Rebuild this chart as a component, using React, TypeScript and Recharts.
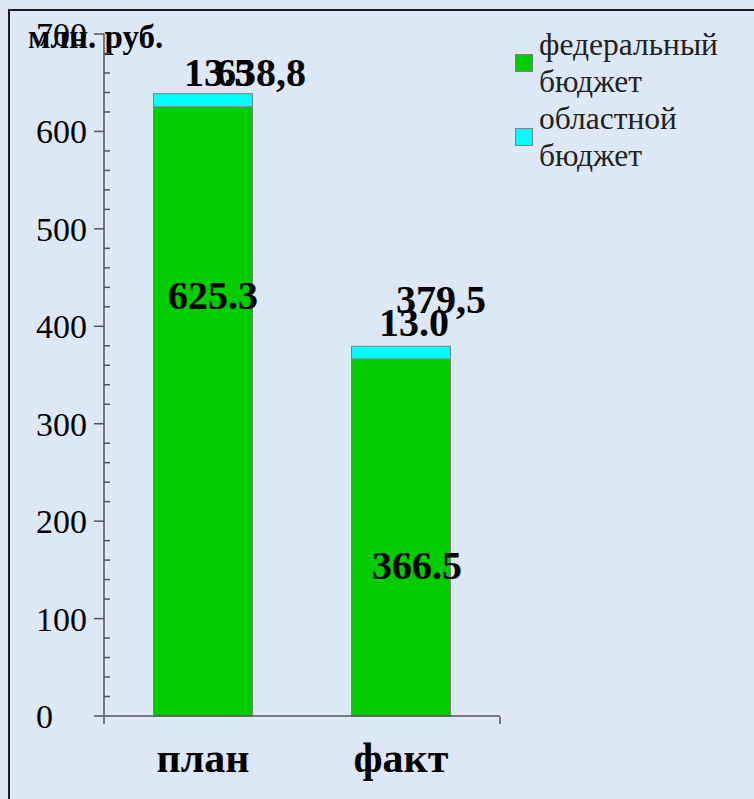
import React from 'react';
import { BarChart, Bar, XAxis, YAxis, Legend, LabelList, Label } from 'recharts';

const categories = ['план', 'факт'];
const federalBudget = [625.3, 366.5];
const regionalBudget = [13.5, 13.0];
const seriesNames = ['федеральный бюджет', 'областной бюджет'];
const unitLabel = 'млн. руб.';
const yTicks = [0, 100, 200, 300, 400, 500, 600, 700];
const yMinorTicks = Array.from({ length: 36 }, (_, i) => i * 20).filter((v) => v % 100 !== 0);
const xMinorTicks = [0, 1, 2, 3, 4, 5, 6, 7, 8, 9, 10];

const data = categories.map((c, i) => ({
  category: c,
  federal: federalBudget[i],
  regional: regionalBudget[i],
  total: Math.round((federalBudget[i] + regionalBudget[i]) * 10) / 10,
}));

const FONT = '"Liberation Serif", "Times New Roman", serif';
const BG = '#dce8f5';
const AXIS = '#555555';

// label placement relative to each bar segment (as in the original slide)
const federalShift = [{ dx: 10, dy: 202 }, { dx: 16, dy: 220 }];
const regionalShift = [{ dx: 16, dy: -8 }, { dx: 13, dy: -10 }];
const totalShift = [{ dx: 58, dy: -8 }, { dx: 40, dy: -33 }];

const getBox = (p: any) => {
  const vb = p.viewBox || p;
  return { x: Number(vb.x ?? p.x), y: Number(vb.y ?? p.y), w: Number(vb.width ?? p.width), h: Number(vb.height ?? p.height) };
};

const makeLabel = (shift: { dx: number; dy: number }[], fmt: (v: number) => string) => (p: any) => {
  const { x, y, w } = getBox(p);
  const i = p.index ?? 0;
  const s = shift[i] || { dx: 0, dy: 0 };
  return (
    <text
      x={x + w / 2 + s.dx}
      y={y + s.dy}
      textAnchor="middle"
      fontFamily={FONT}
      fontWeight="bold"
      fontSize={40}
      fill="#000"
    >
      {fmt(Number(p.value))}
    </text>
  );
};

const CategoryTick = (p: any) => (
  <text
    x={p.x}
    y={p.y}
    dy={56}
    textAnchor="middle"
    fontFamily={FONT}
    fontWeight="bold"
    fontSize={42}
    fill="#000"
  >
    {p.payload.value}
  </text>
);

const ValueTick = (p: any) => (
  <text
    x={p.x - 54}
    y={p.y}
    dy={12}
    textAnchor="start"
    fontFamily={FONT}
    fontSize={34}
    fill="#000"
  >
    {p.payload.value}
  </text>
);

const EmptyTick = () => <g />;

const renderLegend = (props: any) => {
  const payload = [...(props.payload || [])].sort(
    (a: any, b: any) => seriesNames.indexOf(a.value) - seriesNames.indexOf(b.value)
  );
  return (
    <div style={{ fontFamily: FONT, fontSize: 31.5, lineHeight: '37px', color: '#222' }}>
      {payload.map((entry: any) => (
        <div key={entry.value} style={{ display: 'flex', alignItems: 'center' }}>
          <span
            style={{
              width: 16,
              height: 16,
              background: entry.color,
              border: '1px solid #808080',
              marginRight: 6,
              flex: 'none',
            }}
          />
          <span style={{ width: 200 }}>{entry.value}</span>
        </div>
      ))}
    </div>
  );
};

const renderUnit = (p: any) => {
  const vb = p.viewBox || { x: 0, y: 0 };
  return (
    <text x={vb.x + 20} y={vb.y + 14} fontFamily={FONT} fontWeight="bold" fontSize={33} fill="#000">
      {unitLabel}
    </text>
  );
};

export default function App() {
  return (
    <div style={{ position: 'absolute', left: 0, top: 0, width: 754, height: 799, background: BG, overflow: 'hidden' }}>
      <div
        style={{
          position: 'absolute',
          left: 8,
          top: 9,
          width: 760,
          height: 800,
          borderTop: '2px solid #1a1a1a',
          borderLeft: '2px solid #1a1a1a',
        }}
      />
      <div style={{ position: 'absolute', left: 0, top: 0 }}>
        <BarChart
          width={754}
          height={799}
          data={data}
          margin={{ top: 34, right: 254, bottom: 81, left: 8 }}
          barCategoryGap="25%"
        >
          <XAxis
            xAxisId="minor"
            type="number"
            domain={[0, 10]}
            allowDataOverflow
            ticks={xMinorTicks}
            tick={<EmptyTick />}
            axisLine={false}
            tickSize={7}
            tickLine={{ stroke: AXIS, strokeWidth: 1.5 }}
            height={1}
            interval={0}
          />
          <XAxis
            xAxisId="cat"
            dataKey="category"
            height={1}
            tickSize={0}
            tickMargin={0}
            tickLine={false}
            axisLine={{ stroke: AXIS, strokeWidth: 1.5 }}
            tick={<CategoryTick />}
            interval={0}
          />
          <YAxis
            yAxisId="main"
            type="number"
            domain={[0, 700]}
            ticks={yTicks}
            width={96}
            tickSize={10}
            tickMargin={4}
            tick={<ValueTick />}
            axisLine={{ stroke: AXIS, strokeWidth: 1.5 }}
            tickLine={{ stroke: AXIS, strokeWidth: 1.5 }}
            interval={0}
          >
            <Label content={renderUnit} />
          </YAxis>
          <YAxis
            yAxisId="minor"
            type="number"
            domain={[0, 700]}
            allowDataOverflow
            ticks={yMinorTicks}
            mirror
            width={1}
            tick={<EmptyTick />}
            axisLine={false}
            tickSize={6}
            tickLine={{ stroke: AXIS, strokeWidth: 1.5 }}
            interval={0}
          />
          <Legend
            layout="vertical"
            align="center"
            verticalAlign="middle"
            content={renderLegend}
            wrapperStyle={{ left: 515, top: 26, width: 239 }}
          />
          <Bar
            dataKey="federal"
            name={seriesNames[0]}
            stackId="a"
            xAxisId="cat"
            yAxisId="main"
            fill="#00cc00"
            stroke="#808080"
            strokeWidth={1}
            isAnimationActive={false}
          >
            <LabelList dataKey="federal" content={makeLabel(federalShift, (v) => v.toFixed(1))} />
          </Bar>
          <Bar
            dataKey="regional"
            name={seriesNames[1]}
            stackId="a"
            xAxisId="cat"
            yAxisId="main"
            fill="#00ffff"
            stroke="#808080"
            strokeWidth={1}
            isAnimationActive={false}
          >
            <LabelList dataKey="regional" content={makeLabel(regionalShift, (v) => v.toFixed(1))} />
            <LabelList dataKey="total" content={makeLabel(totalShift, (v) => v.toFixed(1).replace('.', ','))} />
          </Bar>
        </BarChart>
      </div>
    </div>
  );
}
